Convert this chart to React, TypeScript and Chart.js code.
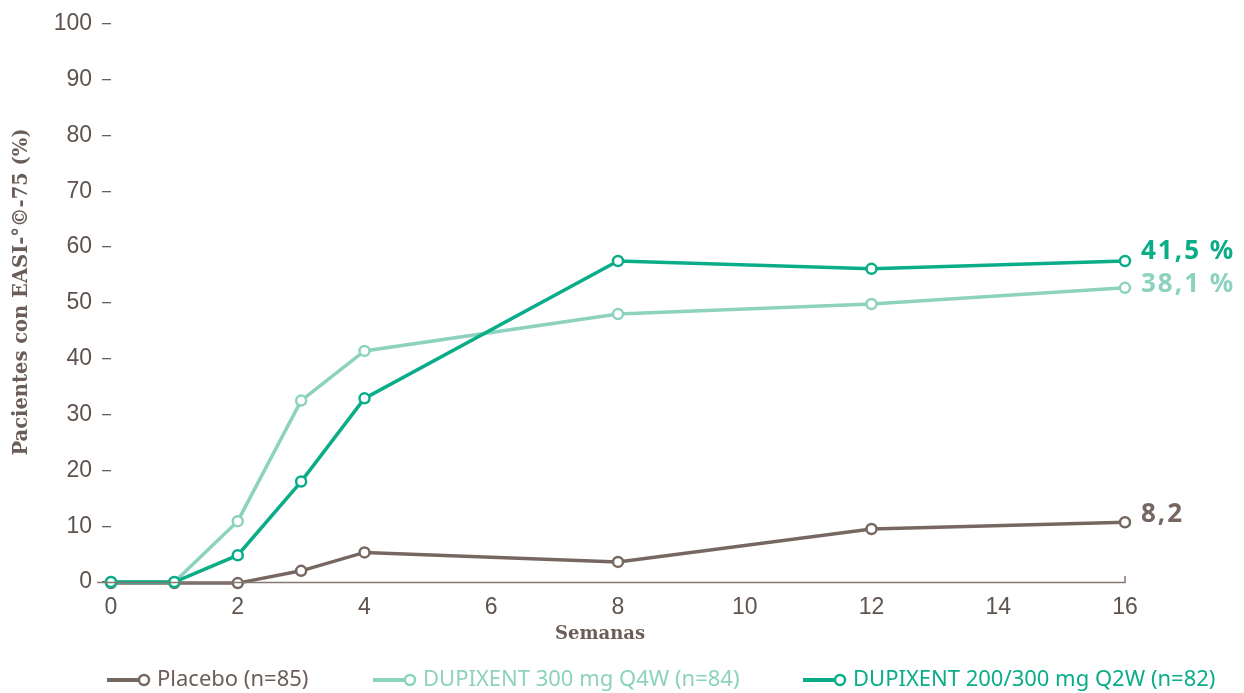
import React, { useEffect, useRef } from "react";
import { Chart, registerables } from "chart.js";

Chart.register(...registerables);

const weeks = [0, 1, 2, 3, 4, 8, 12, 16];
const placebo = [-0.2, -0.2, -0.2, 2.0, 5.3, 3.6, 9.5, 10.7];
const q4w = [0, 0, 10.9, 32.5, 41.4, 48.0, 49.8, 52.7];
const q2w = [0, 0, 4.8, 18.0, 32.9, 57.5, 56.1, 57.5];
const seriesNames = ["Placebo (n=85)", "DUPIXENT 300 mg Q4W (n=84)", "DUPIXENT 200/300 mg Q2W (n=82)"];
const endLabels = ["8,2", "38,1 %", "41,5 %"];
const xTicks = [0, 2, 4, 6, 8, 10, 12, 14, 16];
const yTitle = "Pacientes con EASI-°©-75 (%)";
const xTitle = "Semanas";

const BROWN = "#766861";
const LIGHT = "#8dd2be";
const DARK = "#0bad89";
const TICK = "#5f534d";

const App = () => {
  const ref = useRef<HTMLCanvasElement>(null);
  useEffect(() => {
    const canvas = ref.current!;
    const mk = (vals: number[]) => weeks.map((x, i) => ({ x, y: vals[i] }));
    const ds = (label: string, vals: number[], color: string) => ({
      label,
      data: mk(vals),
      borderColor: color,
      backgroundColor: "#ffffff",
      borderWidth: 3.5,
      pointRadius: 5,
      pointBorderWidth: 2.5,
      pointBackgroundColor: "#ffffff",
      pointBorderColor: color,
      tension: 0,
      clip: false as any,
    });
    const overlay = {
      id: "overlay",
      afterDraw(chart: any) {
        const ctx = chart.ctx;
        const { left, right, bottom } = chart.chartArea;
        const xs = chart.scales.x;
        const ys = chart.scales.y;
        ctx.save();
        // x axis line
        ctx.strokeStyle = "#857873";
        ctx.lineWidth = 1.5;
        ctx.beginPath();
        ctx.moveTo(left - 14, bottom + 0.5);
        ctx.lineTo(right, bottom + 0.5);
        ctx.lineTo(right, bottom - 6);
        ctx.stroke();
        // y title
        ctx.fillStyle = "#6b5e58";
        ctx.font = "bold 19.5px 'DejaVu Serif'";
        ctx.textAlign = "center";
        ctx.textBaseline = "middle";
        ctx.translate(22, 292);
        ctx.rotate(-Math.PI / 2);
        ctx.fillText(yTitle, 0, 0);
        ctx.setTransform(1, 0, 0, 1, 0, 0);
        // x title
        ctx.font = "bold 18px 'DejaVu Serif'";
        ctx.fillText(xTitle, (left + right) / 2 - 18, 634);
        // end labels
        const lastX = xs.getPixelForValue(weeks[weeks.length - 1]);
        const cols = [BROWN, LIGHT, DARK];
        const offs = [-8, -3, -9];
        const vals = [placebo, q4w, q2w];
        ctx.textAlign = "left";
        ctx.font = "bold 26px 'Noto Sans'";
        (ctx as any).letterSpacing = "2px";
        vals.forEach((v, i) => {
          ctx.fillStyle = cols[i];
          const y = ys.getPixelForValue(v[v.length - 1]) + offs[i];
          ctx.fillText(endLabels[i], lastX + 16, y);
        });
        (ctx as any).letterSpacing = "0px";
        // legend
        const lx = [107, 373, 803];
        const ly = 680;
        ctx.font = "22px 'Noto Sans'";
        seriesNames.forEach((name, i) => {
          const c = cols[i];
          ctx.strokeStyle = c;
          ctx.lineWidth = 4;
          ctx.beginPath();
          ctx.moveTo(lx[i], ly);
          ctx.lineTo(lx[i] + 32, ly);
          ctx.stroke();
          ctx.lineWidth = 2.5;
          ctx.fillStyle = "#fff";
          ctx.beginPath();
          ctx.arc(lx[i] + 37, ly, 5, 0, Math.PI * 2);
          ctx.fill();
          ctx.stroke();
          ctx.fillStyle = i === 0 ? "#6b5e58" : c;
          ctx.textBaseline = "middle";
          ctx.fillText(name, lx[i] + 50, ly);
        });
        ctx.restore();
      },
    };
    const chart = new Chart(canvas, {
      type: "line",
      data: {
        datasets: [ds(seriesNames[2], q2w, DARK), ds(seriesNames[1], q4w, LIGHT), ds(seriesNames[0], placebo, BROWN)],
      },
      options: {
        responsive: false,
        animation: false,
        layout: { padding: { top: 22, right: 119, left: 0, bottom: 0 } },
        plugins: { legend: { display: false }, tooltip: { enabled: false } },
        scales: {
          x: {
            type: "linear",
            min: 0,
            max: 16,
            afterBuildTicks: (s: any) => {
              s.ticks = xTicks.map((v) => ({ value: v }));
            },
            afterFit: (s: any) => {
              s.height = 111;
            },
            grid: { display: false, drawTicks: false },
            border: { display: false },
            ticks: { color: TICK, font: { family: "'Liberation Sans'", size: 23 }, padding: 12, maxRotation: 0 },
          },
          y: {
            min: 0,
            max: 100,
            afterFit: (s: any) => {
              s.width = 111;
            },
            grid: { drawOnChartArea: false, drawTicks: true, tickLength: 9, color: "#6b5e58", lineWidth: 1.3 },
            border: { display: false },
            ticks: { stepSize: 10, color: TICK, font: { family: "'Liberation Sans'", size: 23 }, padding: 10 },
          },
        },
      },
      plugins: [overlay],
    } as any);
    return () => chart.destroy();
  }, []);
  return (
    <div style={{ position: "fixed", left: 0, top: 0, width: 1244, height: 693, background: "#fff" }}>
      <canvas ref={ref} width={1244} height={693} />
    </div>
  );
};

export default App;
